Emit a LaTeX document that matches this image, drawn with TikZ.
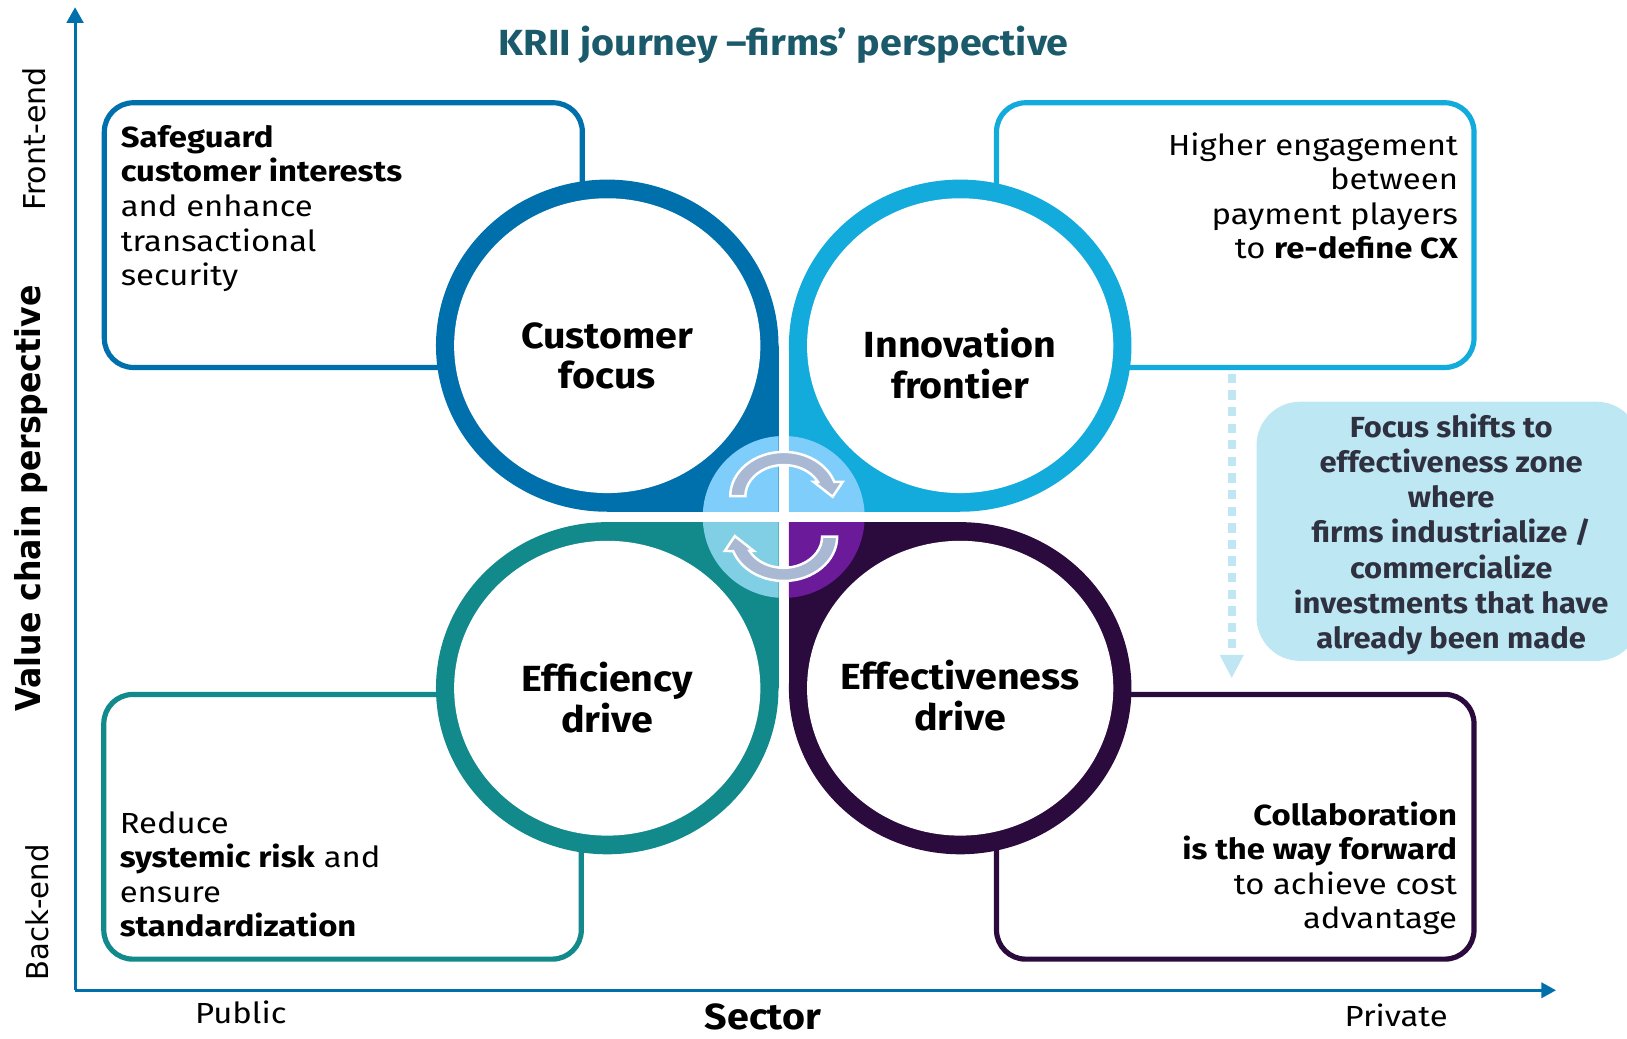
\documentclass[tikz,border=0pt]{standalone}
\usepackage{fontspec}
\usepackage{graphicx}
\setmainfont{Fira Sans}[FakeStretch=1.13]
\newfontfamily\headfont{Fira Sans}[FakeStretch=1.085]
\newfontfamily\callfont{Fira Sans}[FakeStretch=1.065]
\newfontfamily\dvsans{DejaVu Sans}
\usetikzlibrary{arrows.meta}
\definecolor{cTL}{HTML}{0070AD}
\definecolor{cTR}{HTML}{12ABDB}
\definecolor{cBL}{HTML}{12898A}
\definecolor{cBR}{HTML}{2B0A3D}
\definecolor{cCtop}{HTML}{7ECDFB}
\definecolor{cCbl}{HTML}{80CFE4}
\definecolor{cCbr}{HTML}{6B1A9A}
\definecolor{cArrow}{HTML}{A9B9D3}
\definecolor{cCallout}{HTML}{BEE7F4}
\definecolor{cCallText}{HTML}{2F3140}
\definecolor{cTitle}{HTML}{1A5A6B}
\definecolor{cAxis}{HTML}{0070AD}
\definecolor{cDash}{HTML}{BFE6F2}
\newcommand{\mylines}[2]{\begin{tabular}[t]{@{}#1@{}}#2\end{tabular}}
\begin{document}
\begin{tikzpicture}[x=0.5pt,y=-0.5pt,
  box/.style={line width=2.5pt, rounded corners=14pt},
  txt/.style={font=\fontsize{14}{16.65}\selectfont, inner sep=0pt},
  qlabel/.style={font=\headfont\fontsize{17.5}{19.5}\selectfont\bfseries, inner sep=0pt, anchor=base},
  axis/.style={draw=cAxis, line width=1.4pt},
  arr/.style={fill=cArrow, draw=white, line width=1.2pt, line join=miter},
]
\useasboundingbox (0,0) rectangle (1567.4,1000);

% axes
\coordinate (O) at (72.3,954);
\coordinate (Ytip) at (72.3,7);
\coordinate (Xtip) at (1499,954);
\draw[axis, -{Triangle[length=7.5pt,width=8pt]}] (O) -- (Ytip);
\draw[axis, -{Triangle[length=7pt,width=7.3pt]}] (O) -- (Xtip);

% boxes
\draw[box, draw=cTL] (100.5,99) rectangle (561,354);
\draw[box, draw=cTR] (960,99) rectangle (1420,354);
\draw[box, draw=cBL] (100,669) rectangle (560,924);
\draw[box, draw=cBR] (960,669) rectangle (1420,924);

% quadrant shapes
\fill[cTL] (585,333) ellipse[x radius=82.5pt, y radius=80pt];
\fill[cTL] (585,333) rectangle (750,493);
\fill[cTR] (925,333) ellipse[x radius=82.5pt, y radius=80pt];
\fill[cTR] (760,333) rectangle (925,493);
\fill[cBL] (585,663) ellipse[x radius=82.5pt, y radius=80pt];
\fill[cBL] (585,503) rectangle (750,663);
\fill[cBR] (925,663) ellipse[x radius=82.5pt, y radius=80pt];
\fill[cBR] (760,503) rectangle (925,663);

% centre disc quadrants
\begin{scope}\clip (585,333) rectangle (750,493); \fill[cCtop] (755,498) circle[radius=39pt]; \end{scope}
\begin{scope}\clip (760,333) rectangle (925,493); \fill[cCtop] (755,498) circle[radius=39pt]; \end{scope}
\begin{scope}\clip (585,503) rectangle (750,663); \fill[cCbl] (755,498) circle[radius=39pt]; \end{scope}
\begin{scope}\clip (760,503) rectangle (925,663); \fill[cCbr] (755,498) circle[radius=39pt]; \end{scope}

% inner white discs
\fill[white] (585,333) ellipse[x radius=73.75pt, y radius=71pt];
\fill[white] (925,333) ellipse[x radius=73.75pt, y radius=71pt];
\fill[white] (585,663) ellipse[x radius=73.75pt, y radius=71pt];
\fill[white] (925,663) ellipse[x radius=73.75pt, y radius=71pt];

% circular arrows
\path[arr] (718,478) -- (703.5,478) arc[start angle=180,end angle=18.9,x radius=25.75pt,y radius=21.35pt]
  -- (811.8,464.2) -- (802.1,478.6) -- (783.8,464.2) -- (787.9,464.2)
  arc[start angle=27.4,end angle=180,x radius=18.5pt,y radius=15pt] -- cycle;
\path[arr] (792,517) -- (806.5,517) arc[start angle=0,end angle=-161.1,x radius=25.75pt,y radius=21.35pt]
  -- (698.2,530.8) -- (707.9,516.4) -- (726.2,530.8) -- (722.1,530.8)
  arc[start angle=-152.6,end angle=0,x radius=18.5pt,y radius=15pt] -- cycle;

% dashed arrow
\coordinate (dS) at (1186.6,360);
\coordinate (dM) at (1186.6,624);
\coordinate (dE) at (1186.6,653);
\draw[cDash, line width=3.7pt, dash pattern=on 4.5pt off 3.5pt] (dS) -- (dM);
\fill[cDash] (1175,631) -- (1198.2,631) -- (dE) -- cycle;

% callout
\fill[cCallout, rounded corners=21pt] (1210.5,387) rectangle (1580,636.7);
\node[anchor=base, font=\callfont\fontsize{14}{17}\selectfont\bfseries, text=cCallText, inner sep=0pt] (callT) at (1398,421)
  {\mylines{c}{Focus shifts to\\effectiveness zone\\where\\firms industrialize /\\commercialize\\investments that have\\already been made}};

% title
\node[anchor=base, font=\headfont\fontsize{17.5}{20}\selectfont\bfseries, text=cTitle, inner sep=0pt] (title) at (755,53) {KRII journey –firms’ perspective};

% quadrant labels
\node[qlabel] (cf) at (585,335.7) {\mylines{c}{Customer\\focus}};
\node[qlabel] (inf) at (925,344) {\mylines{c}{Innovation\\frontier}};
\node[qlabel] (efd) at (585,666) {\mylines{c}{Efficiency\\drive}};
\node[qlabel] (efv) at (925,664) {\mylines{c}{Effectiveness\\drive}};

% box texts
\node[txt, anchor=base west] (tlT) at (116,142) {\mylines{l}{\textbf{Safeguard}\\\textbf{customer interests}\\and enhance\\transactional\\security}};
\node[txt, anchor=base east] (trT) at (1405,149.4) {\mylines{r}{Higher engagement\\between\\payment players\\to \textbf{re-define CX}}};
\node[txt, anchor=base west] (blT) at (115,802.7) {\mylines{l}{Reduce\\\textbf{systemic risk} and\\ensure\\\textbf{standardization}}};
\node[txt, anchor=base east] (brT) at (1404,795) {\mylines{r}{\textbf{Collaboration}\\\textbf{is the way forward}\\to achieve cost\\advantage}};

% axis labels
\node[anchor=base, font=\fontsize{14}{16}\selectfont, inner sep=0pt] (pub) at (232,986) {Public};
\node[anchor=base, font=\headfont\fontsize{17.5}{20}\selectfont\bfseries, inner sep=0pt] (sec) at (735,992) {Sector};
\node[anchor=base, font=\fontsize{14}{16}\selectfont, inner sep=0pt] (priv) at (1345,989) {Private};
\node[rotate=90, anchor=base, inner sep=0pt, font=\dvsans\fontsize{14.5}{16}\selectfont] (fe) at (44,134) {\scalebox{1.0}[1]{Front-end}};
\node[rotate=90, anchor=base, inner sep=0pt, font=\dvsans\bfseries\fontsize{16.5}{18}\selectfont] (vcp) at (39.3,480) {\scalebox{0.922}[1]{Value chain perspective}};
\node[rotate=90, anchor=base, inner sep=0pt, font=\dvsans\fontsize{14.5}{16}\selectfont] (be) at (46.7,879) {\scalebox{0.965}[1]{Back-end}};
\end{tikzpicture}
\end{document}
